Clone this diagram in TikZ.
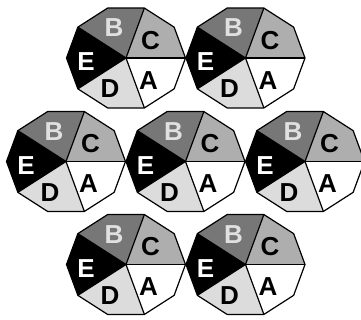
\documentclass[tikz,border=0pt]{standalone}
\usepackage{fontspec}
\setmainfont{Liberation Sans}
\definecolor{cB}{HTML}{777777}
\definecolor{cC}{HTML}{AEAEAE}
\definecolor{cD}{HTML}{DCDCDC}
\definecolor{labB}{HTML}{E0E0E0}
\tikzset{
  edge/.style={draw=black,line width=1.2pt},
  lab/.style={font=\fontsize{26}{26}\selectfont\bfseries,inner sep=0pt},
}
\newcommand\deca[3]{%
  \begin{scope}[shift={(#1pt,#2pt)}]
    \coordinate (#3o) at (0,0);
    \foreach \k in {0,...,9} \coordinate (#3p\k) at ({59.5*cos(36*\k)},{52.5*sin(36*\k)});
    \fill[cC] (#3o) -- (#3p0) -- (#3p1) -- (#3p2) -- cycle;
    \fill[cB] (#3o) -- (#3p2) -- (#3p3) -- (#3p4) -- cycle;
    \fill[black] (#3o) -- (#3p4) -- (#3p5) -- (#3p6) -- cycle;
    \fill[cD] (#3o) -- (#3p6) -- (#3p7) -- (#3p8) -- cycle;
    \fill[white] (#3o) -- (#3p8) -- (#3p9) -- (#3p0) -- cycle;
    \foreach \k in {0,2,4,6,8} \draw[edge] (#3o) -- (#3p\k);
    \draw[edge] (#3p0) -- (#3p1) -- (#3p2) -- (#3p3) -- (#3p4) -- (#3p5) -- (#3p6) -- (#3p7) -- (#3p8) -- (#3p9) -- cycle;
    \node[lab,text=labB] (#3B) at (-12,30) {B};
    \node[lab,text=black] (#3C) at (24.5,17.5) {C};
    \node[lab,text=white] (#3E) at (-40,-4) {E};
    \node[lab,text=black] (#3D) at (-16,-31) {D};
    \node[lab,text=black] (#3A) at (22.5,-22.5) {A};
  \end{scope}}
\begin{document}
\begin{tikzpicture}[x=1pt,y=1pt]
  \useasboundingbox (0,0) rectangle (361,320);
  \fill[white] (0,0) rectangle (361,320);
  \deca{126}{262}{t1}
  \deca{245.5}{262}{t2}
  \deca{66}{158.5}{m1}
  \deca{185.5}{158.5}{m2}
  \deca{305}{158.5}{m3}
  \deca{126}{55.5}{b1}
  \deca{245.5}{55.5}{b2}
\end{tikzpicture}
\end{document}
